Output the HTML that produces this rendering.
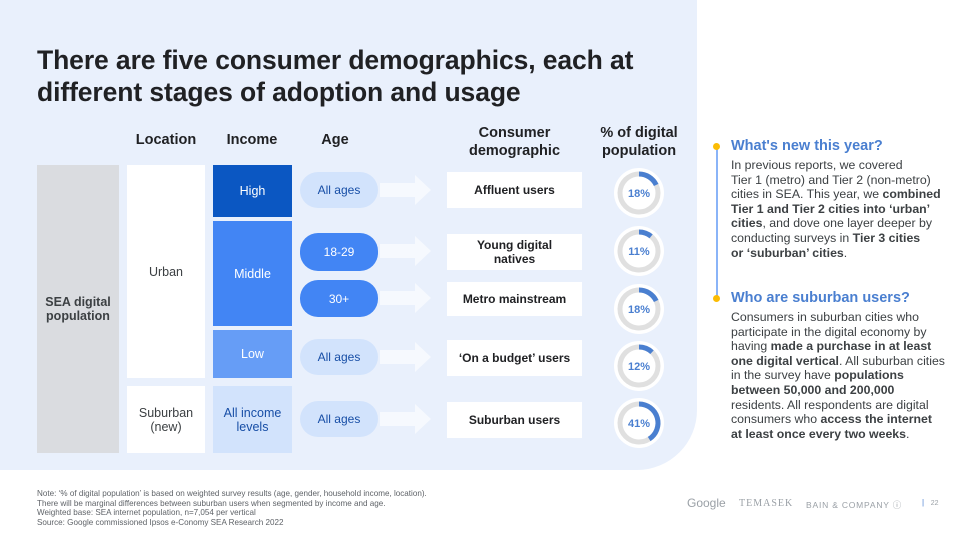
<!DOCTYPE html>
<html><head><meta charset="utf-8">
<style>
*{margin:0;padding:0;box-sizing:border-box}
body{width:960px;height:540px;overflow:hidden;background:#fff;font-family:"Liberation Sans",sans-serif;position:relative;color:#202124}
.abs{position:absolute}
.bg{left:0;top:0;width:697px;height:470px;background:#e9f0fc;border-bottom-right-radius:60px}
.title{left:37px;top:44px;font-size:26.5px;font-weight:bold;line-height:32px;color:#202124;letter-spacing:-0.1px}
.hdr{font-size:14.5px;font-weight:bold;text-align:center;line-height:18px;color:#202124}
.cell{display:flex;align-items:center;justify-content:center;text-align:center;font-size:12.5px;line-height:14px}
.pill{border-radius:18px;font-size:12px}
.box{background:#fff;font-weight:bold;font-size:12px;line-height:14px}
.rt{left:731px;width:225px;font-size:12.3px;line-height:14.6px;color:#3c4043;white-space:nowrap}
.rh{font-size:14.5px;font-weight:bold;color:#4a7fd0;line-height:18px;margin-bottom:3px}
.note{left:37px;top:489px;font-size:8.1px;line-height:9.6px;color:#5f6368}
</style></head><body>
<div class="abs bg"></div>
<div class="abs title">There are five consumer demographics, each at<br>different stages of adoption and usage</div>

<div class="abs hdr" style="left:126px;top:131px;width:80px">Location</div>
<div class="abs hdr" style="left:212px;top:131px;width:80px">Income</div>
<div class="abs hdr" style="left:299px;top:131px;width:72px">Age</div>
<div class="abs hdr" style="left:447px;top:124px;width:135px">Consumer<br>demographic</div>
<div class="abs hdr" style="left:590px;top:124px;width:98px">% of digital<br>population</div>

<div class="abs cell" style="left:37px;top:165px;width:82px;height:288px;background:#dadce0;font-weight:bold;color:#3c4043">SEA digital<br>population</div>
<div class="abs cell" style="left:127px;top:165px;width:78px;height:213px;background:#fff;color:#3c4043">Urban</div>
<div class="abs cell" style="left:127px;top:386px;width:78px;height:67px;background:#fff;color:#3c4043">Suburban<br>(new)</div>
<div class="abs cell" style="left:213px;top:165px;width:79px;height:52px;background:#0b57c2;color:#fff">High</div>
<div class="abs cell" style="left:213px;top:221px;width:79px;height:105px;background:#4285f4;color:#fff">Middle</div>
<div class="abs cell" style="left:213px;top:330px;width:79px;height:48px;background:#669df6;color:#fff">Low</div>
<div class="abs cell" style="left:213px;top:386px;width:79px;height:67px;background:#d2e3fc;color:#174ea6">All income<br>levels</div>

<div class="abs cell pill" style="left:300px;top:172px;width:78px;height:36px;background:#d2e3fc;color:#174ea6">All ages</div>
<div class="abs cell pill" style="left:300px;top:233px;width:78px;height:38px;background:#4285f4;color:#fff">18-29</div>
<div class="abs cell pill" style="left:300px;top:280px;width:78px;height:37px;background:#4285f4;color:#fff">30+</div>
<div class="abs cell pill" style="left:300px;top:339px;width:78px;height:36px;background:#d2e3fc;color:#174ea6">All ages</div>
<div class="abs cell pill" style="left:300px;top:401px;width:78px;height:36px;background:#d2e3fc;color:#174ea6">All ages</div>

<svg class="abs" style="left:0;top:0" width="960" height="540">
<g fill="#f6f9fe">
<path d="M380,183h35v-8l16,15l-16,15v-8h-35z"/>
<path d="M380,244h35v-8l16,15l-16,15v-8h-35z"/>
<path d="M380,291h35v-8l16,15l-16,15v-8h-35z"/>
<path d="M380,350h35v-8l16,15l-16,15v-8h-35z"/>
<path d="M380,412h35v-8l16,15l-16,15v-8h-35z"/>
</g></svg>

<div class="abs cell box" style="left:447px;top:172px;width:135px;height:36px">Affluent users</div>
<div class="abs cell box" style="left:447px;top:234px;width:135px;height:36px">Young digital<br>natives</div>
<div class="abs cell box" style="left:447px;top:282px;width:135px;height:34px">Metro mainstream</div>
<div class="abs cell box" style="left:447px;top:340px;width:135px;height:36px">‘On a budget’ users</div>
<div class="abs cell box" style="left:447px;top:402px;width:135px;height:36px">Suburban users</div>

<svg id="donuts" class="abs" style="left:0;top:0" width="960" height="540"></svg>

<div class="abs" style="left:716px;top:146px;width:2px;height:152px;background:#8ab4f8"></div>
<div class="abs" style="left:713px;top:143px;width:7px;height:7px;border-radius:50%;background:#fbbc04"></div>
<div class="abs" style="left:713px;top:295px;width:7px;height:7px;border-radius:50%;background:#fbbc04"></div>
<div class="abs rt" style="top:137px">
<div class="rh">What's new this year?</div>
In previous reports, we covered<br>Tier 1 (metro) and Tier 2 (non-metro)<br>cities in SEA. This year, we <b>combined</b><br><b>Tier 1 and Tier 2 cities into ‘urban’</b><br><b>cities</b>, and dove one layer deeper by<br>conducting surveys in <b>Tier 3 cities</b><br><b>or ‘suburban’ cities</b>.
</div>
<div class="abs rt" style="top:289px">
<div class="rh">Who are suburban users?</div>
Consumers in suburban cities who<br>participate in the digital economy by<br>having <b>made a purchase in at least</b><br><b>one digital vertical</b>. All suburban cities<br>in the survey have <b>populations</b><br><b>between 50,000 and 200,000</b><br>residents. All respondents are digital<br>consumers who <b>access the internet</b><br><b>at least once every two weeks</b>.
</div>

<div class="abs note">Note: ‘% of digital population’ is based on weighted survey results (age, gender, household income, location).<br>There will be marginal differences between suburban users when segmented by income and age.<br>Weighted base: SEA internet population, n=7,054 per vertical<br>Source: Google commissioned Ipsos e-Conomy SEA Research 2022</div>
<div class="abs" style="left:687px;top:496px;font-size:12px;color:#9aa0a6">Google</div>
<div class="abs" style="left:739px;top:498px;font-family:'Liberation Serif',serif;font-size:10px;letter-spacing:1px;color:#9aa0a6">TEMASEK</div>
<div class="abs" style="left:806px;top:499px;font-size:8.5px;letter-spacing:0.8px;color:#9aa0a6">BAIN &amp; COMPANY ⓘ</div>
<div class="abs" style="left:922px;top:498px;font-size:8px;color:#4a7fd0">|&nbsp;&nbsp; <span style="color:#9aa0a6;font-size:7px">22</span></div>

<script>
const segments = ["Affluent users","Young digital natives","Metro mainstream","On a budget users","Suburban users"];
const shares = [18, 11, 18, 12, 41];
const labels = ["18%","11%","18%","12%","41%"];
const svg = document.getElementById('donuts');
const NS = 'http://www.w3.org/2000/svg';
const cx = 639, rowY = i => [193,251,309,366,423][i];
const r = 19;
function arcPath(x, y, rad, frac){
  const a0 = -Math.PI/2, a1 = a0 + frac*2*Math.PI;
  const large = frac > 0.5 ? 1 : 0;
  return `M${x+rad*Math.cos(a0)},${y+rad*Math.sin(a0)} A${rad},${rad} 0 ${large} 1 ${x+rad*Math.cos(a1)},${y+rad*Math.sin(a1)}`;
}
shares.forEach((v, i) => {
  const y = rowY(i);
  const bgc = document.createElementNS(NS,'circle');
  bgc.setAttribute('cx',cx);bgc.setAttribute('cy',y);bgc.setAttribute('r',25);bgc.setAttribute('fill','#fff');
  
  
  svg.appendChild(bgc);
  const track = document.createElementNS(NS,'circle');
  track.setAttribute('cx',cx);track.setAttribute('cy',y);track.setAttribute('r',r);
  track.setAttribute('fill','none');track.setAttribute('stroke','#e0e0e0');track.setAttribute('stroke-width',5);
  
  
  svg.appendChild(track);
  const arc = document.createElementNS(NS,'path');
  arc.setAttribute('d', arcPath(cx, y, r, v/100));
  arc.setAttribute('fill','none');arc.setAttribute('stroke','#4a7fd0');arc.setAttribute('stroke-width',5);
  
  
  svg.appendChild(arc);
  const t = document.createElementNS(NS,'text');
  t.setAttribute('x',cx);t.setAttribute('y',y+4);t.setAttribute('text-anchor','middle');
  t.setAttribute('font-size','11');t.setAttribute('font-weight','bold');t.setAttribute('fill','#4a7fd0');
  t.setAttribute('font-family','Liberation Sans, sans-serif');
  t.textContent = labels[i];
  
  
  svg.appendChild(t);
});
</script>
</body></html>
